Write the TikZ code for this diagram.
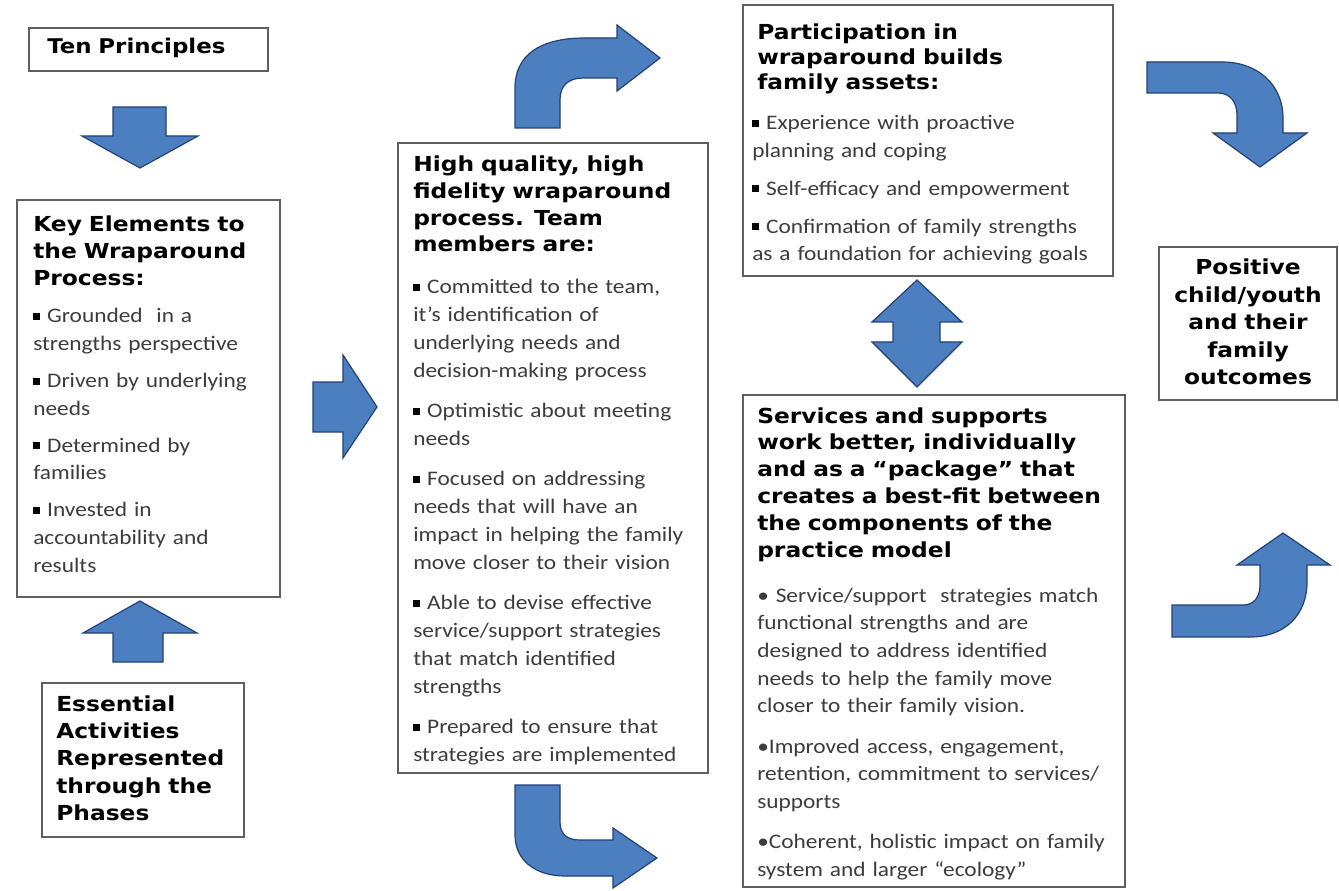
\documentclass[tikz,border=0pt]{standalone}
\usepackage{fontspec}
\usepackage{tikz}
\usetikzlibrary{fit}
\newfontfamily\headfont[FakeStretch=1.13]{DejaVu Sans}
\newfontfamily\bodyfont[FakeStretch=1.13]{Carlito}
\definecolor{arrowfill}{RGB}{76,127,191}
\definecolor{arrowline}{RGB}{37,64,120}
\definecolor{framegray}{RGB}{95,95,95}
\definecolor{bodygray}{RGB}{60,60,60}
\newcommand{\sqbullet}{{\color{black}\rule[0.3ex]{0.34em}{0.34em}}\ }
\tikzstyle{frame}=[draw=framegray, line width=1pt, inner sep=0, outer sep=0]
\tikzstyle{blockarrow}=[fill=arrowfill, draw=arrowline, line width=0.9pt, line join=miter]
\tikzset{headtext/.style={inner sep=0, anchor=base west, align=left, text width=260pt,
                          font=\headfont\bfseries\fontsize{15.5}{#1}\selectfont},
         bodytext/.style 2 args={inner sep=0, anchor=base west, align=left, text width=290pt, text=bodygray,
                          font=\bodyfont\fontsize{15.5}{#1}\selectfont,
                          execute at begin node={\setlength{\parskip}{#2}}}}

\begin{document}
\begin{tikzpicture}[x=0.75pt, y=-0.75pt]
        \useasboundingbox (0,0) rectangle (1339,891);
        % boxes
        \node[frame, fit={(29,28) (268,71)}]      (ten) {};
        \node[frame, fit={(17,200) (280,597)}]    (key) {};
        \node[frame, fit={(42,683) (244,837)}]    (act) {};
        \node[frame, fit={(398,143) (708,773)}]   (team) {};
        \node[frame, fit={(743,5) (1113,276)}]    (assets) {};
        \node[frame, fit={(743,395) (1125,887)}]  (serv) {};
        \node[frame, fit={(1159,247) (1337,400)}] (out) {};
        % texts
        \node[headtext=20pt, font=\headfont\bfseries\fontsize{15.2}{20}\selectfont] (tenhead) at (47,54) {Ten Principles};
        \node[headtext=19.9pt] (keyhead) at (33,232) {Key Elements to\\the Wraparound\\Process:};
        \node[bodytext={20.8pt}{6.8pt}] (keybody) at (33,323) {\sqbullet Grounded\ \ in a\\strengths perspective\par
            \sqbullet Driven by underlying\\needs\par
            \sqbullet Determined by\\families\par
            \sqbullet Invested in\\accountability and\\results};
        \node[headtext=20.6pt] (acthead) at (56,711) {Essential\\Activities\\Represented\\through the\\Phases};
        \node[headtext=20pt] (teamhead) at (413,172) {High quality, high\\fidelity wraparound\\process. Team\\members are:};
        \node[bodytext={21pt}{9pt}] (teambody) at (413,294) {\sqbullet Committed to the team,\\it’s identification of\\underlying needs and\\decision-making process\par
            \sqbullet Optimistic about meeting\\needs\par
            \sqbullet Focused on addressing\\needs that will have an\\impact in helping the family\\move closer to their vision\par
            \sqbullet Able to devise effective\\service/support strategies\\that match identified\\strengths\par
            \sqbullet Prepared to ensure that\\strategies are implemented};
        \node[headtext=18.75pt] (assetshead) at (757,40) {Participation in\\wraparound builds\\family assets:};
        \node[bodytext={20.5pt}{8pt}] (assetsbody) at (752,130) {\sqbullet Experience with proactive\\planning and coping\par
            \sqbullet Self-efficacy and empowerment\par
            \sqbullet Confirmation of family strengths\\as a foundation for achieving goals};
        \node[headtext=20.1pt] (servhead) at (757,423) {Services and supports\\work better, individually\\and as a “package” that\\creates a best-fit between\\the components of the\\practice model};
        \node[bodytext={20.8pt}{9.4pt}] (servbody) at (757,602) {• Service/support\ \ strategies match\\functional strengths and are\\designed to address identified\\needs to help the family move\\closer to their family vision.\par
            •Improved access, engagement,\\retention, commitment to services/\\supports\par
            •Coherent, holistic impact on family\\system and larger “ecology”};
        \node[headtext=20.6pt, anchor=base, align=center, text width=125pt] (outhead) at (1248,275) {Positive\\child/youth\\and their\\family\\outcomes};
        % straight arrows
        \draw[blockarrow] (113,107) -- (166,107) -- (166,136) -- (198,136) -- (140,168) -- (82,136) -- (113,136) -- cycle;
        \draw[blockarrow] (113,662) -- (163,662) -- (163,633) -- (197,633) -- (140,601) -- (83,633) -- (113,633) -- cycle;
        \draw[blockarrow] (313,382) -- (343,382) -- (343,355) -- (377,407) -- (343,458) -- (343,432) -- (313,432) -- cycle;
        \draw[blockarrow] (917,280) -- (962,322) -- (940,322) -- (940,342) -- (962,342) -- (917,387)
                          -- (872,342) -- (893,342) -- (893,322) -- (872,322) -- cycle;
        % bent arrows
        \draw[blockarrow] (515,128) -- (515,88) .. controls (515,55) and (540,38) .. (585,38) -- (617,38) -- (617,25)
                          -- (660,58) -- (617,91) -- (617,78) -- (583,78) .. controls (568,78) and (560,86) .. (560,100) -- (560,128) -- cycle;
        \draw[blockarrow] (515,785) -- (560,785) -- (560,822) .. controls (560,835) and (568,840) .. (580,840) -- (613,840)
                          -- (613,828) -- (657,858) -- (613,888) -- (613,876) -- (565,876) .. controls (535,876) and (515,860) .. (515,835) -- cycle;
        \draw[blockarrow] (1147,62) -- (1222,62) .. controls (1258,62) and (1283,85) .. (1283,118) -- (1283,133) -- (1307,133)
                          -- (1260,167) -- (1213,133) -- (1237,133) -- (1237,115) .. controls (1237,102) and (1230,93) .. (1218,93) -- (1147,93) -- cycle;
        \draw[blockarrow] (1172,605) -- (1243,605) .. controls (1254,605) and (1260,597) .. (1260,585) -- (1260,565) -- (1237,565)
                          -- (1283,533) -- (1330,565) -- (1307,565) -- (1307,582) .. controls (1307,615) and (1285,637) .. (1250,637) -- (1172,637) -- cycle;
\end{tikzpicture}
\end{document}
